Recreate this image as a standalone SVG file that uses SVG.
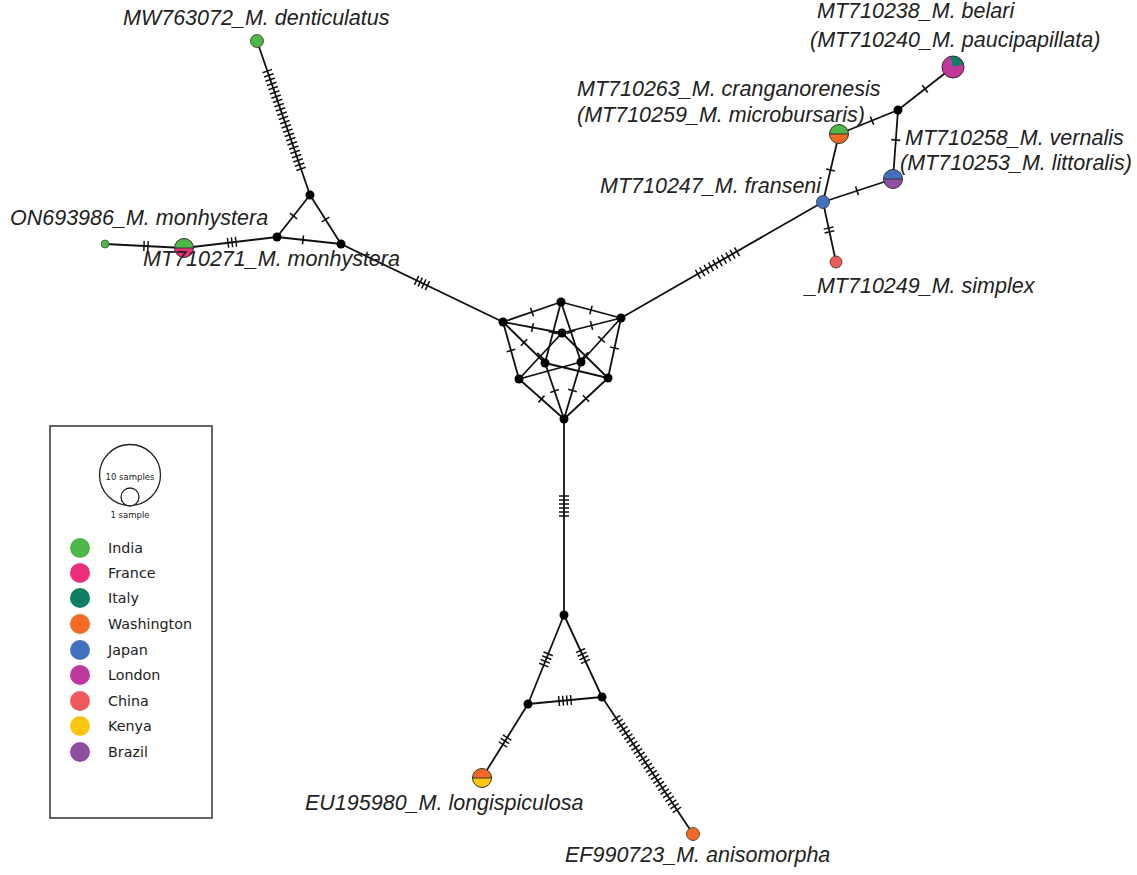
<svg xmlns="http://www.w3.org/2000/svg" width="1137" height="875" viewBox="0 0 1137 875">
<style>
.e{stroke:#111;stroke-width:1.8;fill:none}
.h{stroke:#111;stroke-width:10;stroke-dasharray:1.5 2.5;fill:none}
.t{stroke:#111;stroke-width:9;fill:none}
.v{fill:#000}
.o{stroke:#333;stroke-width:1;fill:none}
.lab{font-family:"Liberation Sans",Arial,sans-serif;font-style:italic;font-size:21.5px;fill:#222}
.leg{font-family:"DejaVu Sans",Verdana,sans-serif;font-size:14.3px;fill:#222}
.sm{font-family:"DejaVu Sans",Verdana,sans-serif;font-size:8.5px;fill:#222;text-anchor:middle}
</style>
<rect width="1137" height="875" fill="#fff"/>
<g id="connectors">
<!-- central network -->
<line class="e" x1="561" y1="302" x2="503" y2="322"/>
<line class="e" x1="561" y1="302" x2="621" y2="318"/>
<line class="e" x1="503" y1="322" x2="562" y2="333"/>
<line class="e" x1="621" y1="318" x2="562" y2="333"/>
<line class="e" x1="561" y1="302" x2="545" y2="363"/>
<line class="e" x1="561" y1="302" x2="581" y2="362"/>
<line class="e" x1="503" y1="322" x2="519" y2="379"/>
<line class="e" x1="621" y1="318" x2="608" y2="378"/>
<line class="e" x1="503" y1="322" x2="545" y2="363"/>
<line class="e" x1="621" y1="318" x2="581" y2="362"/>
<line class="e" x1="562" y1="333" x2="519" y2="379"/>
<line class="e" x1="562" y1="333" x2="608" y2="378"/>
<line class="e" x1="519" y1="379" x2="581" y2="362"/>
<line class="e" x1="608" y1="378" x2="545" y2="363"/>
<line class="e" x1="545" y1="363" x2="564" y2="419"/>
<line class="e" x1="581" y1="362" x2="564" y2="419"/>
<line class="e" x1="519" y1="379" x2="564" y2="419"/>
<line class="e" x1="608" y1="378" x2="564" y2="419"/>
<!-- branches -->
<line class="e" x1="503" y1="322" x2="341" y2="244"/>
<line class="e" x1="621" y1="318" x2="823" y2="202"/>
<line class="e" x1="564" y1="419" x2="564" y2="615"/>
<!-- left cluster -->
<line class="e" x1="310" y1="195" x2="277" y2="237"/>
<line class="e" x1="310" y1="195" x2="341" y2="244"/>
<line class="e" x1="277" y1="237" x2="341" y2="244"/>
<line class="e" x1="310" y1="195" x2="257" y2="41"/>
<line class="e" x1="277" y1="237" x2="184" y2="248"/>
<line class="e" x1="184" y1="248" x2="105" y2="244"/>
<!-- right cluster -->
<line class="e" x1="823" y1="202" x2="836" y2="262"/>
<line class="e" x1="823" y1="202" x2="839" y2="134"/>
<line class="e" x1="823" y1="202" x2="893" y2="179"/>
<line class="e" x1="839" y1="134" x2="898" y2="110"/>
<line class="e" x1="893" y1="179" x2="898" y2="110"/>
<line class="e" x1="898" y1="110" x2="953" y2="67"/>
<!-- bottom cluster -->
<line class="e" x1="564" y1="615" x2="528" y2="704"/>
<line class="e" x1="564" y1="615" x2="602" y2="697"/>
<line class="e" x1="528" y1="704" x2="602" y2="697"/>
<line class="e" x1="528" y1="704" x2="482" y2="778"/>
<line class="e" x1="602" y1="697" x2="693" y2="834"/>
<!-- hatch groups -->
<line class="h" x1="428.1" y1="285.9" x2="415.9" y2="280.1"/>
<line class="h" style="stroke-dasharray:1.5 3.5" x1="697.3" y1="274.6" x2="737.7" y2="251.4"/>
<line class="h" x1="564" y1="495.25" x2="564" y2="516.75"/>
<line class="h" x1="548.5" y1="653.2" x2="543.5" y2="665.8"/>
<line class="h" x1="580.2" y1="649.9" x2="585.8" y2="662.1"/>
<line class="h" x1="558.3" y1="701.1" x2="571.7" y2="699.9"/>
<line class="h" x1="507.5" y1="737" x2="502.5" y2="745"/>
<line class="h" style="stroke-dasharray:1.5 2.9" x1="615.7" y1="717.6" x2="677.3" y2="810.4"/>
<line class="h" style="stroke-dasharray:1.5 3" x1="301.3" y1="169.6" x2="267.1" y2="70.4"/>
<line class="h" x1="236.7" y1="241.7" x2="227.3" y2="242.9"/>
<line class="h" x1="148.75" y1="246.1" x2="143.25" y2="245.9"/>
<line class="h" x1="828.4" y1="227.3" x2="829.6" y2="232.7"/>
<!-- single ticks -->
<line class="t" x1="532.76" y1="311.74" x2="531.24" y2="312.26"/>
<line class="t" x1="590.23" y1="309.79" x2="591.77" y2="310.21"/>
<line class="t" x1="531.71" y1="327.35" x2="533.29" y2="327.65"/>
<line class="t" x1="592.28" y1="325.3" x2="590.72" y2="325.7"/>
<line class="t" x1="553.2" y1="331.73" x2="552.8" y2="333.27"/>
<line class="t" x1="570.75" y1="331.24" x2="571.25" y2="332.76"/>
<line class="t" x1="510.78" y1="349.73" x2="511.22" y2="351.27"/>
<line class="t" x1="614.67" y1="347.22" x2="614.33" y2="348.78"/>
<line class="t" x1="523.43" y1="341.94" x2="524.57" y2="343.06"/>
<line class="t" x1="602.04" y1="338.86" x2="600.96" y2="340.04"/>
<line class="t" x1="541.05" y1="355.42" x2="539.95" y2="356.58"/>
<line class="t" x1="584.43" y1="354.94" x2="585.57" y2="356.06"/>
<line class="t" x1="540.9" y1="398.47" x2="542.1" y2="399.53"/>
<line class="t" x1="554.24" y1="390.24" x2="554.76" y2="391.76"/>
<line class="t" x1="572.73" y1="389.73" x2="572.27" y2="391.27"/>
<line class="t" x1="586.59" y1="397.95" x2="585.41" y2="399.05"/>
<line class="t" x1="293.99" y1="215.37" x2="293.01" y2="216.63"/>
<line class="t" x1="325.07" y1="218.82" x2="325.93" y2="220.18"/>
<line class="t" x1="302.2" y1="239.71" x2="303.8" y2="239.89"/>
<line class="t" x1="830.32" y1="170.78" x2="830.68" y2="169.22"/>
<line class="t" x1="856.24" y1="191.05" x2="857.76" y2="190.55"/>
<line class="t" x1="871.26" y1="120.9" x2="872.74" y2="120.3"/>
<line class="t" x1="895.74" y1="140.8" x2="895.86" y2="139.2"/>
<line class="t" x1="924.37" y1="89.39" x2="925.63" y2="88.41"/>
</g>
<g id="median-vectors">
<circle class="v" cx="561" cy="302" r="4.5"/>
<circle class="v" cx="503" cy="322" r="4.5"/>
<circle class="v" cx="621" cy="318" r="4.5"/>
<circle class="v" cx="562" cy="333" r="4.5"/>
<circle class="v" cx="545" cy="363" r="4.5"/>
<circle class="v" cx="581" cy="362" r="4.5"/>
<circle class="v" cx="519" cy="379" r="4.5"/>
<circle class="v" cx="608" cy="378" r="4.5"/>
<circle class="v" cx="564" cy="419" r="4.5"/>
<circle class="v" cx="310" cy="195" r="4.5"/>
<circle class="v" cx="277" cy="237" r="4.5"/>
<circle class="v" cx="341" cy="244" r="4.5"/>
<circle class="v" cx="898" cy="110" r="4.5"/>
<circle class="v" cx="564" cy="615" r="4.5"/>
<circle class="v" cx="528" cy="704" r="4.5"/>
<circle class="v" cx="602" cy="697" r="4.5"/>
</g>
<g id="MW763072">
<circle cx="257" cy="41" r="6.5" fill="#4DB848" stroke="#333" stroke-width="0.8"/>
<text class="lab" x="123" y="25">MW763072_M. denticulatus</text>
</g>
<g id="ON693986">
<circle cx="105" cy="244" r="4" fill="#4DB848" stroke="#333" stroke-width="0.6"/>
<text class="lab" x="10" y="225">ON693986_M. monhystera</text>
</g>
<g id="MT710271">
<circle cx="184" cy="248" r="9.5" fill="#EC2F7B"/>
<path d="M174.5,248 A9.5 9.5 0 0 1 193.5,248 Z" fill="#4DB848"/>
<line x1="174.5" y1="248" x2="193.5" y2="248" stroke="#333" stroke-width="1"/>
<circle class="o" cx="184" cy="248" r="9.5"/>
<text class="lab" x="143" y="266">MT710271_M. monhystera</text>
</g>
<g id="MT710238">
<circle cx="953" cy="67" r="11" fill="#C1379C"/>
<path d="M953,67 L950.15,56.37 A11 11 0 0 1 963.63,64.15 Z" fill="#137D63"/>
<circle class="o" cx="953" cy="67" r="11"/>
<text class="lab" x="817" y="18">MT710238_M. belari</text>
<text class="lab" x="810" y="47">(MT710240_M. paucipapillata)</text>
</g>
<g id="MT710263">
<circle cx="839" cy="134" r="9.5" fill="#F36A24"/>
<path d="M829.5,134 A9.5 9.5 0 0 1 848.5,134 Z" fill="#4DB848"/>
<line x1="829.5" y1="134" x2="848.5" y2="134" stroke="#333" stroke-width="1"/>
<circle class="o" cx="839" cy="134" r="9.5"/>
<text class="lab" x="577" y="96">MT710263_M. cranganorenesis</text>
<text class="lab" x="577" y="122">(MT710259_M. microbursaris)</text>
</g>
<g id="MT710258">
<circle cx="893" cy="179" r="9.5" fill="#8E4FA3"/>
<path d="M883.5,179 A9.5 9.5 0 0 1 902.5,179 Z" fill="#4470C0"/>
<line x1="883.5" y1="179" x2="902.5" y2="179" stroke="#333" stroke-width="1"/>
<circle class="o" cx="893" cy="179" r="9.5"/>
<text class="lab" x="905" y="145">MT710258_M. vernalis</text>
<text class="lab" x="900" y="170">(MT710253_M. littoralis)</text>
</g>
<g id="MT710247">
<circle cx="823" cy="202" r="6.5" fill="#4470C0" stroke="#333" stroke-width="0.8"/>
<text class="lab" x="600" y="193">MT710247_M. franseni</text>
</g>
<g id="MT710249">
<circle cx="836" cy="262" r="6" fill="#EF5B5B" stroke="#333" stroke-width="0.8"/>
<text class="lab" x="805" y="293">_MT710249_M. simplex</text>
</g>
<g id="EU195980">
<circle cx="482" cy="778" r="9.5" fill="#FDC60E"/>
<path d="M472.5,778 A9.5 9.5 0 0 1 491.5,778 Z" fill="#F36A24"/>
<line x1="472.5" y1="778" x2="491.5" y2="778" stroke="#333" stroke-width="1"/>
<circle class="o" cx="482" cy="778" r="9.5"/>
<text class="lab" x="305" y="810">EU195980_M. longispiculosa</text>
</g>
<g id="EF990723">
<circle cx="693" cy="834" r="6.5" fill="#F36A24" stroke="#333" stroke-width="0.8"/>
<text class="lab" x="565" y="862">EF990723_M. anisomorpha</text>
</g>
<g id="legend">
<rect x="50" y="426" width="162" height="392" fill="#fff" stroke="#333" stroke-width="1.5"/>
<circle cx="130" cy="475" r="30.5" fill="none" stroke="#222" stroke-width="1.3"/>
<circle cx="130" cy="497" r="9" fill="#fff" stroke="#222" stroke-width="1.3"/>
<text class="sm" x="130" y="480">10 samples</text>
<text class="sm" x="130" y="518">1 sample</text>
<circle cx="80" cy="548" r="10" fill="#4DB848"/>
<circle cx="80" cy="573" r="10" fill="#EC2F7B"/>
<circle cx="80" cy="598" r="10" fill="#137D63"/>
<circle cx="80" cy="624" r="10" fill="#F36A24"/>
<circle cx="80" cy="650" r="10" fill="#4470C0"/>
<circle cx="80" cy="675" r="10" fill="#C1379C"/>
<circle cx="80" cy="701" r="10" fill="#EF5B5B"/>
<circle cx="80" cy="726" r="10" fill="#FDC60E"/>
<circle cx="80" cy="752" r="10" fill="#8E4FA3"/>
<text class="leg" x="108" y="553">India</text>
<text class="leg" x="108" y="578">France</text>
<text class="leg" x="108" y="603">Italy</text>
<text class="leg" x="108" y="629">Washington</text>
<text class="leg" x="108" y="655">Japan</text>
<text class="leg" x="108" y="680">London</text>
<text class="leg" x="108" y="706">China</text>
<text class="leg" x="108" y="731">Kenya</text>
<text class="leg" x="108" y="757">Brazil</text>
</g>
</svg>
